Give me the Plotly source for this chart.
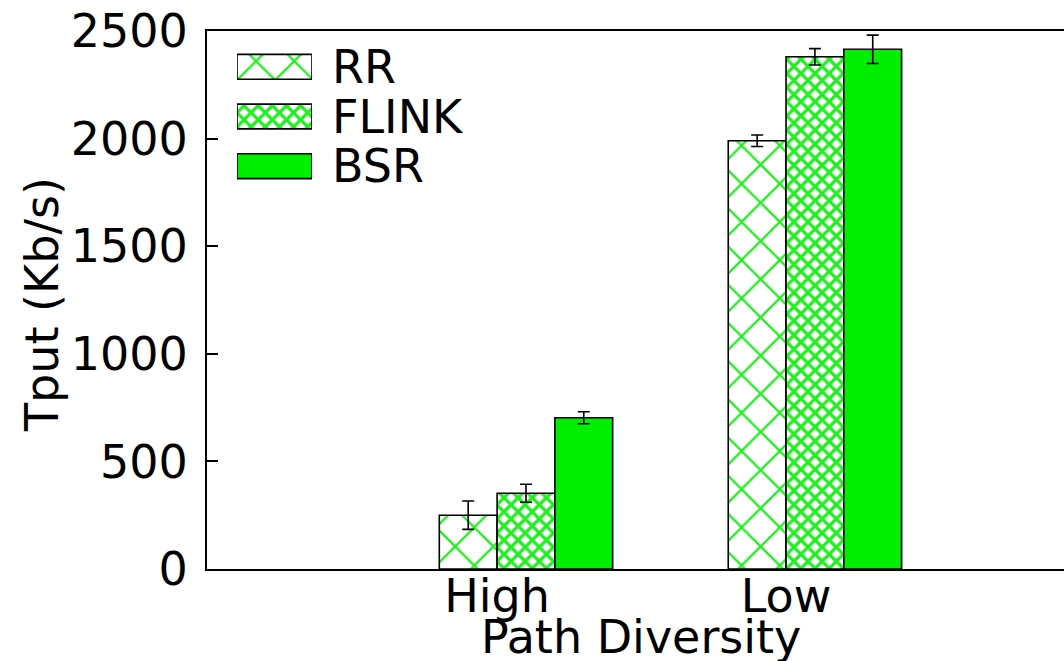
import plotly.graph_objects as go

categories = ["High", "Low"]
series_names = ["RR", "FLINK", "BSR"]
rr_values = [250, 1990]
flink_values = [352, 2380]
bsr_values = [703, 2415]
rr_err = [66, 27]
flink_err = [42, 38]
bsr_err = [28, 66]
y_ticks = [0, 500, 1000, 1500, 2000, 2500]

GREEN = "#00ee00"
PAT_GREEN = "#22ee22"
FONT = "DejaVu Sans"
FS = 46

W, H = 1064, 661
ML, MR, MT, MB = 207, 0, 31, 92
PW, PH = W - ML - MR, H - MT - MB


def px_x(p):
    return (p - ML) / PW


def px_y(p):
    return (H - MB - p) / PH


xpos = list(range(len(categories)))

styles = {
    "RR": dict(shape="x", size=27, solidity=0.16),
    "FLINK": dict(shape="x", size=10, solidity=0.55),
    "BSR": dict(shape="", size=8, solidity=0.3),
}


def marker_for(name):
    st = styles[name]
    return dict(
        color="white" if st["shape"] else GREEN,
        line=dict(color="black", width=1.6),
        pattern=dict(shape=st["shape"], size=st["size"], solidity=st["solidity"],
                     fgcolor=PAT_GREEN, fgopacity=1,
                     bgcolor="white" if st["shape"] else GREEN,
                     fillmode="overlay"),
    )


fig = go.Figure()
for name, vals, errs in [("RR", rr_values, rr_err),
                         ("FLINK", flink_values, flink_err),
                         ("BSR", bsr_values, bsr_err)]:
    fig.add_trace(go.Bar(
        x=xpos, y=vals, name=name, showlegend=False,
        marker=marker_for(name),
        error_y=dict(type="data", array=errs, color="black", thickness=1.6, width=6),
    ))

# legend boxes drawn as bars on an auxiliary hidden axis pair
for i, name in enumerate(series_names):
    fig.add_trace(go.Bar(
        x=[1], y=[i], base=0, orientation="h", width=0.5, offset=-0.25,
        xaxis="x2", yaxis="y2", showlegend=False, hoverinfo="skip",
        marker=marker_for(name),
    ))

row_px = [67, 117, 166]
annotations = []
for name, rp in zip(series_names, row_px):
    annotations.append(dict(text=name, x=px_x(330), y=px_y(rp), xref="paper", yref="paper",
                            xanchor="left", yanchor="middle", showarrow=False,
                            font=dict(family=FONT, size=FS, color="black")))
annotations.append(dict(text="Tput (Kb/s)", textangle=-90, x=px_x(42), y=px_y(305),
                        xref="paper", yref="paper", xanchor="center", yanchor="middle",
                        showarrow=False, font=dict(family=FONT, size=FS, color="black")))
annotations.append(dict(text="Path Diversity", x=px_x(641), y=px_y(637),
                        xref="paper", yref="paper", xanchor="center", yanchor="middle",
                        showarrow=False, font=dict(family=FONT, size=FS, color="black")))

fig.update_layout(
    width=W, height=H,
    margin=dict(l=ML, r=MR, t=MT, b=MB, pad=0),
    paper_bgcolor="white", plot_bgcolor="white",
    barmode="group", bargap=0.4, bargroupgap=0,
    font=dict(family=FONT, size=FS, color="black"),
    xaxis=dict(range=[-1.104, 1.862], tickvals=[p - 0.1 for p in xpos], ticktext=categories,
               ticks="", showline=True, mirror=True, linecolor="black", linewidth=2,
               showgrid=False, zeroline=False, ticklabelstandoff=-14,
               tickfont=dict(family=FONT, size=FS, color="black"), fixedrange=True),
    yaxis=dict(range=[0, 2500], tickvals=y_ticks, ticks="inside", ticklen=11, tickwidth=1.5,
               tickcolor="black", showline=True, linecolor="black", linewidth=2,
               showgrid=False, zeroline=False, ticklabelstandoff=8,
               tickfont=dict(family=FONT, size=FS, color="black"), fixedrange=True),
    xaxis2=dict(domain=[px_x(237), px_x(312)], anchor="y2", range=[0, 1], visible=False,
                fixedrange=True),
    yaxis2=dict(domain=[px_y(191), px_y(42)], anchor="x2", range=[2.5, -0.5], visible=False,
                fixedrange=True),
    annotations=annotations,
    showlegend=False,
)

fig.write_html("out.html", config={"displayModeBar": False},
               post_script="document.body.style.margin='0px';document.body.style.overflow='hidden';")
